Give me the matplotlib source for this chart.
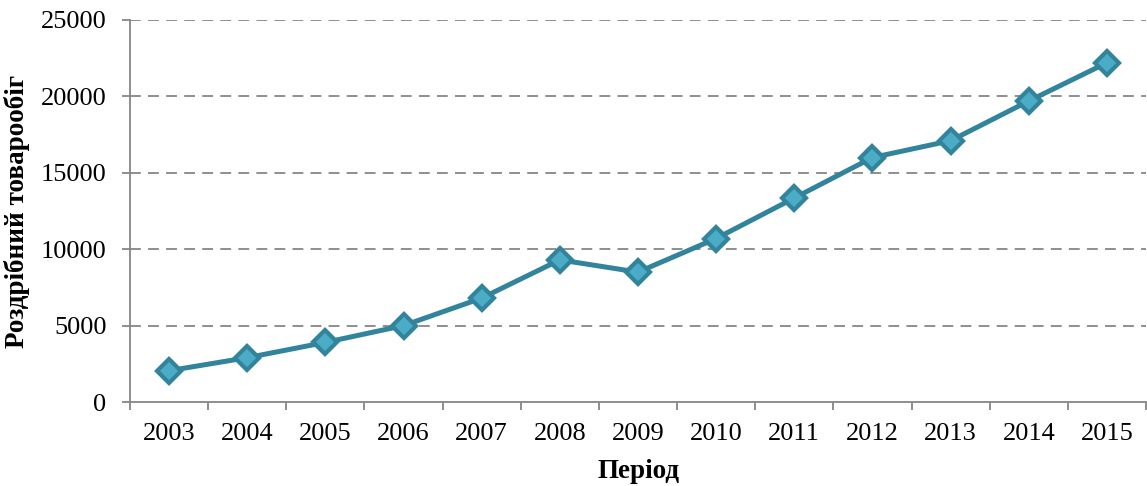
import matplotlib
matplotlib.use("Agg")
import matplotlib.pyplot as plt
import numpy as np

years = ["2003", "2004", "2005", "2006", "2007", "2008", "2009", "2010",
         "2011", "2012", "2013", "2014", "2015"]
values = [2050, 2900, 3900, 5000, 6800, 9300, 8500, 10700,
          13350, 16000, 17100, 19700, 22200]
yticks = [0, 5000, 10000, 15000, 20000, 25000]

plt.rcParams['font.family'] = ['Liberation Serif', 'DejaVu Serif']

W, H = 1147, 486
fig = plt.figure(figsize=(W / 100, H / 100), dpi=100)
ax = fig.add_axes([130 / W, (H - 402) / H, (1146 - 130) / W, (402 - 20) / H])

x = np.arange(len(years))
ax.plot(x, values, color='#31849B', linewidth=3.6, marker='D', markersize=12.5,
        markerfacecolor='#4BACC6', markeredgecolor='#31849B', markeredgewidth=3,
        zorder=3, clip_on=False)

ax.set_xlim(-0.5, len(years) - 0.5)
ax.set_ylim(0, 25000)
ax.set_yticks(yticks)
ax.set_yticklabels([str(v) for v in yticks], fontsize=19)
ax.set_xticks(x)
ax.set_xticklabels(years, fontsize=19)
ax.set_xticks(np.arange(-0.5, len(years), 1.0), minor=True)
ax.tick_params(axis='x', which='major', length=0, pad=15)
ax.tick_params(axis='x', which='minor', length=6, color='#868686', width=1.3)
ax.tick_params(axis='y', length=6, color='#868686', width=1.3, pad=11)

for v in yticks[1:]:
    ax.axhline(v, color='#868686', linestyle=(0, (6, 4)), linewidth=1.3, zorder=1)

for s in ['top', 'right']:
    ax.spines[s].set_visible(False)
for s in ['left', 'bottom']:
    ax.spines[s].set_color('#868686')
    ax.spines[s].set_linewidth(1.3)

ax.set_xlabel('Період', fontsize=19.5, fontweight='bold', labelpad=10.5)
ax.set_ylabel('Роздрібний товарообіг', fontsize=19.5, fontweight='bold', labelpad=8)

fig.savefig('out.png', dpi=100)
